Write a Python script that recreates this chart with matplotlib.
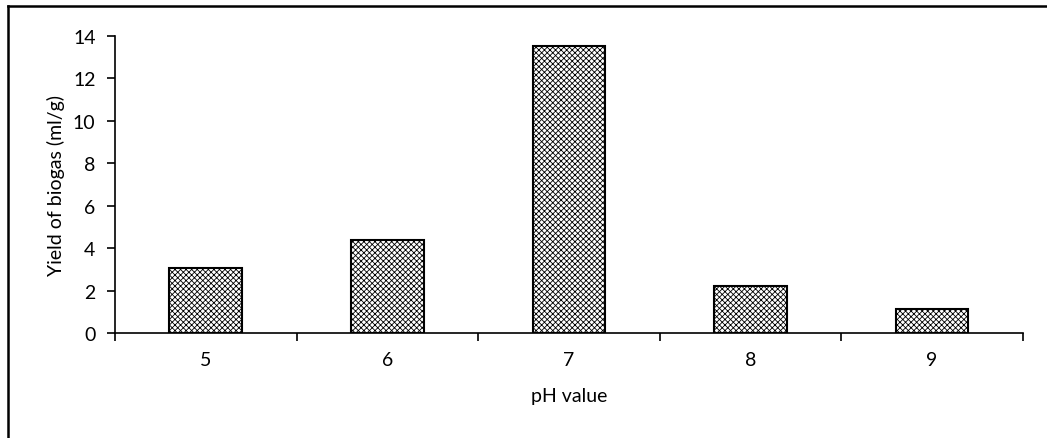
import numpy as np
import matplotlib.pyplot as plt
from matplotlib.lines import Line2D

ph_values = ["5", "6", "7", "8", "9"]
biogas_yield = [3.07, 4.39, 13.55, 2.23, 1.13]
y_ticks = [0, 2, 4, 6, 8, 10, 12, 14]

plt.rcParams["font.family"] = ["Lato", "DejaVu Sans"]
plt.rcParams["hatch.linewidth"] = 0.6

fs = 14

fig = plt.figure(figsize=(10.47, 4.39), dpi=100)
ax = fig.add_axes([0.1098, 0.2392, 0.8672, 0.6765])

x = np.arange(len(ph_values))
ax.bar(x, biogas_yield, width=0.4, color="white", edgecolor="black",
       linewidth=1.5, hatch="xxxxxx", zorder=2)

ax.set_xlim(-0.5, len(ph_values) - 0.5)
ax.set_ylim(0, 14)
ax.set_yticks(y_ticks)
ax.set_yticklabels([str(t) for t in y_ticks])

# category labels centred, ticks at the category boundaries
ax.set_xticks(x)
ax.set_xticklabels(ph_values)
ax.set_xticks(np.arange(len(ph_values) + 1) - 0.5, minor=True)
ax.tick_params(axis="x", which="major", length=0, pad=13, labelsize=fs)
ax.tick_params(axis="x", which="minor", length=6, width=1.2, direction="out")
ax.tick_params(axis="y", length=6, width=1.2, direction="out", pad=8,
               labelsize=fs)

for side in ["top", "right"]:
    ax.spines[side].set_visible(False)
for side in ["left", "bottom"]:
    ax.spines[side].set_linewidth(1.2)

ax.set_xlabel("pH value", fontsize=fs, labelpad=14)
ax.set_ylabel("Yield of biogas (ml/g)", fontsize=fs, labelpad=6)

# chart frame (only top and left edges show in the crop)
fig.add_artist(Line2D([0.0076, 0.0076], [0, 0.984], transform=fig.transFigure,
                      color="black", linewidth=1.8))
fig.add_artist(Line2D([0.0076, 1.0], [0.984, 0.984], transform=fig.transFigure,
                      color="black", linewidth=1.8))

fig.savefig("out.png", dpi=100)
